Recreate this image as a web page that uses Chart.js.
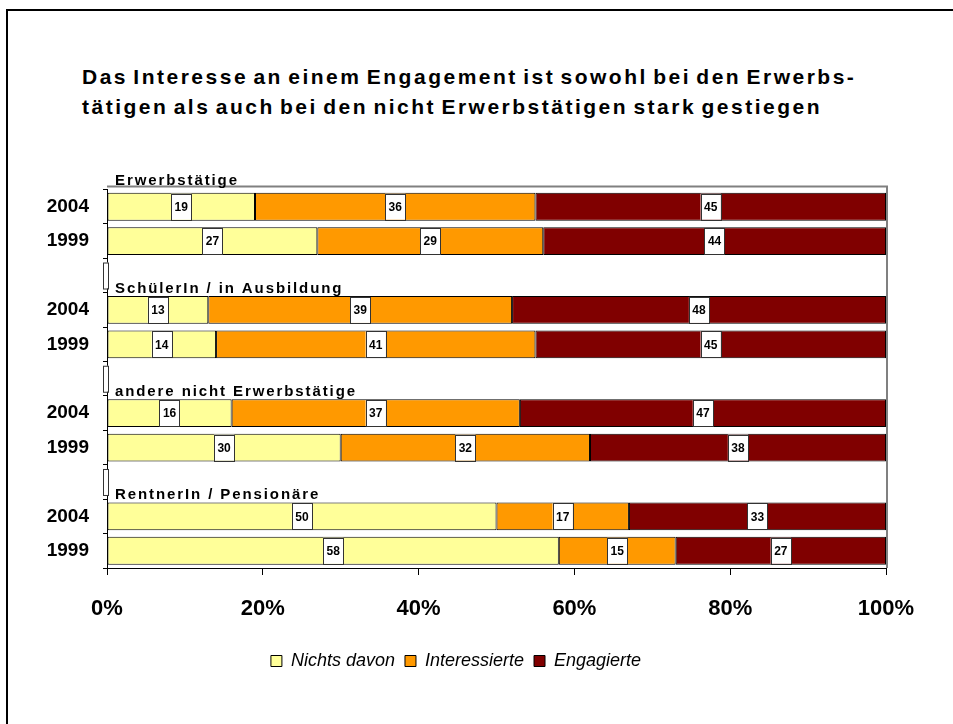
<!DOCTYPE html>
<html>
<head>
<meta charset="utf-8">
<script src="https://cdn.jsdelivr.net/npm/chart.js@4/dist/chart.umd.min.js"></script>
<style>
  html, body { margin: 0; padding: 0; background: #fff; overflow: hidden; }
  #frame {
    position: absolute; left: 6px; top: 9px;
    width: 2000px; height: 2000px;
    border: 2px solid #000;
  }
  #title {
    position: absolute; left: 82px; top: 62px;
    font: bold 21px "Liberation Sans", Arial, sans-serif;
    letter-spacing: 2.5px; word-spacing: -3px;
    line-height: 30px; color: #000; white-space: nowrap;
  }
  #wrap { position: absolute; left: 0; top: 0; width: 953px; height: 724px; }
</style>
</head>
<body>
<div id="frame"></div>
<div id="title">Das Interesse an einem Engagement ist sowohl bei den Erwerbs-<br>tätigen als auch bei den nicht Erwerbstätigen stark gestiegen</div>
<div id="wrap"><canvas id="chart"></canvas></div>
<script>
// Gruppen und Jahre (je Gruppe 2004 und 1999)
const groups = ['Erwerbstätige', 'SchülerIn / in Ausbildung', 'andere nicht Erwerbstätige', 'RentnerIn / Pensionäre'];
const years = ['2004', '1999'];

// Werte in Prozent, Reihenfolge: Gruppe1 2004, Gruppe1 1999, Gruppe2 2004, ...
const nichtsDavon   = [19, 27, 13, 14, 16, 30, 50, 58];
const interessierte = [36, 29, 39, 41, 37, 32, 17, 15];
const engagierte    = [45, 44, 48, 45, 47, 38, 33, 27];

const seriesNames = ['Nichts davon', 'Interessierte', 'Engagierte'];
const seriesColors = ['#FFFF99', '#FF9900', '#800000'];

// Kategorien mit Leerzeile zwischen den Gruppen
const labels = [];
const groupStart = [];
const gapRows = [];
groups.forEach((g, gi) => {
    if (gi > 0) { gapRows.push(labels.length); labels.push(''); }
    groupStart.push(labels.length);
    years.forEach(y => labels.push(y));
});

const withGaps = arr => {
    const out = [];
    groups.forEach((g, gi) => {
        if (gi > 0) out.push(null);
        years.forEach((y, yi) => out.push(arr[gi * years.length + yi]));
    });
    return out;
};

const seriesData = [nichtsDavon, interessierte, engagierte];

// Datenbeschriftungen, Gruppentitel, Rahmen
const extras = {
    id: 'extras',
    afterDatasetsDraw(chart) {
        const ctx = chart.ctx;
        const area = chart.chartArea;
        const yScale = chart.scales.y;

        // Rahmen oben und rechts (grau)
        ctx.save();
        ctx.strokeStyle = '#808080';
        ctx.lineWidth = 2;
        ctx.beginPath();
        ctx.moveTo(area.left, area.top - 3);
        ctx.lineTo(area.right + 1, area.top - 3);
        ctx.lineTo(area.right + 1, area.bottom);
        ctx.stroke();
        ctx.restore();

        // Wertekästchen
        ctx.save();
        ctx.font = 'bold 12px "Liberation Sans", Arial, sans-serif';
        ctx.textAlign = 'center';
        ctx.textBaseline = 'middle';
        chart.data.datasets.forEach((ds, di) => {
            const meta = chart.getDatasetMeta(di);
            meta.data.forEach((bar, i) => {
                const v = ds.data[i];
                if (v == null) return;
                const cx = (bar.x + bar.base) / 2;
                const cy = bar.y;
                const w = ctx.measureText(String(v)).width + 7;
                const h = 26;
                ctx.fillStyle = '#fff';
                ctx.fillRect(cx - w / 2, cy - h / 2, w, h);
                ctx.strokeStyle = '#333';
                ctx.lineWidth = 1;
                ctx.strokeRect(Math.round(cx - w / 2) + 0.5, Math.round(cy - h / 2) + 0.5, Math.round(w), h);
                ctx.fillStyle = '#000';
                ctx.fillText(String(v), cx, cy + 1);
            });
        });

        // leere Kästchen in den Leerzeilen
        gapRows.forEach(r => {
            const cy = yScale.getPixelForValue(r);
            ctx.fillStyle = '#fff';
            ctx.fillRect(area.left - 4, cy - 13, 6, 26);
            ctx.strokeStyle = '#333';
            ctx.strokeRect(area.left - 3.5, cy - 12.5, 5, 26);
        });

        // Gruppentitel
        ctx.font = 'bold 15px "Liberation Sans", Arial, sans-serif';
        ctx.letterSpacing = '1.9px';
        ctx.textAlign = 'left';
        ctx.textBaseline = 'alphabetic';
        ctx.fillStyle = '#000';
        groups.forEach((g, gi) => {
            const cy = yScale.getPixelForValue(groupStart[gi]);
            const off = gi === 0 ? 22 : 17;
            ctx.fillText(g, area.left + 8, cy - off);
        });
        ctx.restore();
    }
};

new Chart(document.getElementById('chart'), {
    type: 'bar',
    data: {
        labels: labels,
        datasets: seriesNames.map((name, i) => ({
            label: name,
            data: withGaps(seriesData[i]),
            backgroundColor: seriesColors[i],
            borderColor: '#000',
            borderWidth: 1,
            borderSkipped: false,
            barPercentage: 0.81,
            categoryPercentage: 1.0
        }))
    },
    options: {
        indexAxis: 'y',
        responsive: true,
        maintainAspectRatio: false,
        animation: false,
        layout: { padding: { left: 26, right: 67, top: 189.5, bottom: 44 } },
        plugins: {
            title: { display: false },
            tooltip: { enabled: false },
            legend: {
                position: 'bottom',
                labels: {
                    color: '#000',
                    boxWidth: 11,
                    boxHeight: 11,
                    padding: 10,
                    font: { family: '"Liberation Sans", Arial, sans-serif', size: 18, style: 'italic' }
                }
            }
        },
        scales: {
            x: {
                stacked: true,
                min: 0,
                max: 100,
                ticks: {
                    stepSize: 20,
                    padding: 21,
                    color: '#000',
                    font: { family: '"Liberation Sans", Arial, sans-serif', size: 22, weight: 'bold' },
                    callback: v => v + '%'
                },
                grid: { drawOnChartArea: false, tickLength: 7, color: '#000' },
                border: { color: '#000', width: 1 },
                afterFit: s => { s.height = 74; }
            },
            y: {
                stacked: true,
                ticks: {
                    padding: 14,
                    color: '#000',
                    font: { family: '"Liberation Sans", Arial, sans-serif', size: 19, weight: 'bold' }
                },
                grid: { drawOnChartArea: false, tickLength: 4, color: '#000', offset: true },
                border: { color: '#000', width: 1 },
                afterFit: s => { s.width = 81; }
            }
        }
    },
    plugins: [extras]
});
</script>
</body>
</html>
